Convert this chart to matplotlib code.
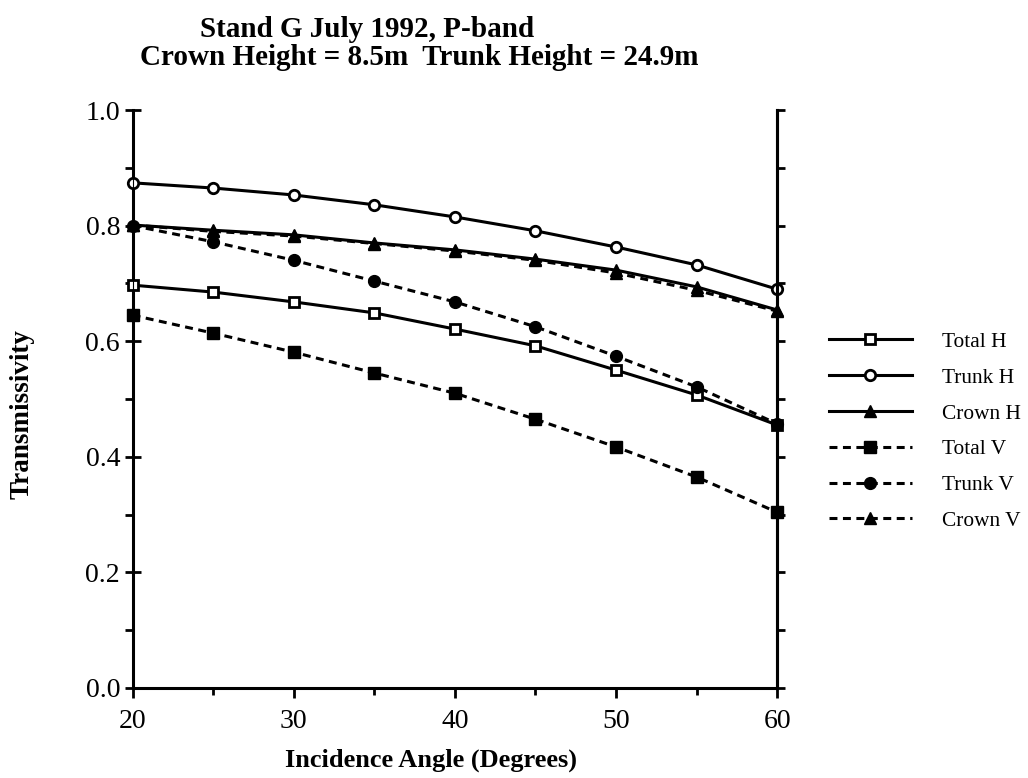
import matplotlib
matplotlib.use("Agg")
import matplotlib.pyplot as plt
from matplotlib.ticker import MultipleLocator, FormatStrFormatter

plt.rcParams['font.family'] = ['Liberation Serif', 'DejaVu Serif']

# incidence angle (degrees)
angle = [20, 25, 30, 35, 40, 45, 50, 55, 60]

total_h = [0.697, 0.685, 0.668, 0.649, 0.621, 0.592, 0.550, 0.507, 0.455]
trunk_h = [0.874, 0.865, 0.853, 0.836, 0.815, 0.791, 0.763, 0.732, 0.690]
crown_h = [0.801, 0.792, 0.784, 0.770, 0.758, 0.742, 0.723, 0.694, 0.654]
total_v = [0.645, 0.614, 0.581, 0.545, 0.510, 0.465, 0.417, 0.365, 0.304]
trunk_v = [0.800, 0.772, 0.740, 0.704, 0.668, 0.625, 0.574, 0.521, 0.457]
crown_v = [0.801, 0.790, 0.782, 0.769, 0.756, 0.740, 0.718, 0.688, 0.652]

labels = ["Total H", "Trunk H", "Crown H", "Total V", "Trunk V", "Crown V"]

fig = plt.figure(figsize=(10.28, 7.78), dpi=100)
ax = fig.add_axes([0.129, 0.1157, 0.627, 0.7429])

lw = 2.2
ms = 7.5
dash = (0, (2.6, 1.8))

ax.plot(angle, total_h, '-', color='k', lw=lw, marker='s', ms=ms, mfc='white', mec='k', mew=2, label=labels[0], clip_on=False, zorder=3)
ax.plot(angle, trunk_h, '-', color='k', lw=lw, marker='o', ms=ms, mfc='white', mec='k', mew=2, label=labels[1], clip_on=False, zorder=3)
ax.plot(angle, crown_h, '-', color='k', lw=lw, marker='^', ms=ms + 0.5, mfc='k', mec='k', label=labels[2], clip_on=False, zorder=3)
ax.plot(angle, total_v, linestyle=dash, color='k', lw=lw, marker='s', ms=ms + 0.5, mfc='k', mec='k', label=labels[3], clip_on=False, zorder=3)
ax.plot(angle, trunk_v, linestyle=dash, color='k', lw=lw, marker='o', ms=ms + 1, mfc='k', mec='k', label=labels[4], clip_on=False, zorder=3)
ax.plot(angle, crown_v, linestyle=dash, color='k', lw=lw, marker='^', ms=ms + 0.5, mfc='k', mec='k', label=labels[5], clip_on=False, zorder=3)

ax.set_xlim(20, 60)
ax.set_ylim(0.0, 1.0)
ax.xaxis.set_major_locator(MultipleLocator(10))
ax.xaxis.set_minor_locator(MultipleLocator(5))
ax.yaxis.set_major_locator(MultipleLocator(0.2))
ax.yaxis.set_minor_locator(MultipleLocator(0.1))
ax.yaxis.set_major_formatter(FormatStrFormatter('%.1f'))

for s in ['left', 'right', 'bottom']:
    ax.spines[s].set_linewidth(2.2)
ax.spines['top'].set_visible(False)

ax.tick_params(axis='y', which='major', direction='inout', length=12, width=2, labelsize=20, pad=3)
ax.tick_params(axis='y', which='minor', direction='out', length=6, width=2)
ax.tick_params(axis='x', which='major', direction='out', length=7, width=2, labelsize=20, pad=8)
ax.tick_params(axis='x', which='minor', direction='out', length=5, width=2)

# right side ticks point outward
ax2 = ax.twinx()
ax2.set_ylim(0.0, 1.0)
ax2.yaxis.set_major_locator(MultipleLocator(0.1))
ax2.tick_params(axis='y', which='major', direction='out', length=6, width=2, labelright=False)
ax2.spines['top'].set_visible(False)
ax2.spines['right'].set_linewidth(2.2)

ax.set_xlabel("Incidence Angle (Degrees)", fontsize=19, fontweight='bold', labelpad=8)
ax.xaxis.set_label_coords(0.463, -0.105)
ax.set_ylabel("Transmissivity", fontsize=19.5, fontweight='bold')
ax.yaxis.set_label_coords(-0.152, 0.474)

fig.text(0.357, 0.9524, "Stand G July 1992, P-band", fontsize=21, fontweight='bold', ha='center', va='baseline')
fig.text(0.4076, 0.9165, "Crown Height = 8.5m  Trunk Height = 24.9m", fontsize=21, fontweight='bold', ha='center', va='baseline')

fig.legend(loc='center left', bbox_to_anchor=(0.806, 0.4454), frameon=False, fontsize=15.4,
           handlelength=3.9, numpoints=1, labelspacing=0.74, handletextpad=1.4, borderaxespad=0, borderpad=0)

fig.savefig("out.png", dpi=100)
